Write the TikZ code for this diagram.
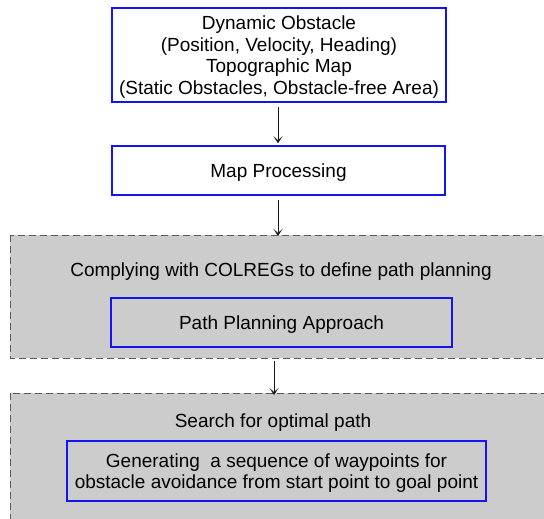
\documentclass[tikz,border=0pt]{standalone}
\usepackage{fontspec}
\setmainfont{Liberation Sans}
\usetikzlibrary{arrows.meta}
\definecolor{boxblue}{RGB}{20,20,240}
\definecolor{panelgrey}{RGB}{204,204,204}
\definecolor{dashgrey}{RGB}{90,90,90}
\newcommand{\drop}[1]{\raisebox{-2.5pt}[\height][\depth]{\begin{tabular}{@{}c@{}}#1\end{tabular}}}
\tikzset{
  bluebox/.style={draw=boxblue, line width=1.6pt, fill=white, inner sep=0pt, font=\fontsize{19}{21.5}\selectfont},
  innerbox/.style={bluebox, fill=panelgrey},
  panel/.style={draw=dashgrey, fill=panelgrey, dash pattern=on 7pt off 4pt, line width=0.8pt},
  plain/.style={font=\fontsize{19}{21.5}\selectfont, inner sep=0pt},
  flow/.style={-{Stealth[length=7pt,width=9pt,inset=4pt]}, line width=1pt, draw=black!90}
}
\begin{document}
\begin{tikzpicture}[x=1pt,y=-1pt]
\useasboundingbox (0,0) rectangle (544,519);
\begin{scope}
\clip (0,0) rectangle (544,519);
\draw[panel] (10,235) rectangle (560,358);
\draw[panel] (10,393) rectangle (560,530);
\end{scope}
\node[bluebox, minimum width=334pt, minimum height=94pt] (input) at (279,55)
  {\drop{Dynamic Obstacle\\(Position, Velocity, Heading)\\Topographic Map\\(Static Obstacles, Obstacle-free Area)}};
\node[bluebox, minimum width=333pt, minimum height=49pt] (map) at (278.5,170.5) {\drop{Map Processing}};
\node[plain] (colregs) at (281,272) {Complying with COLREGs to define path planning};
\node[innerbox, minimum width=341pt, minimum height=49pt] (ppa) at (281.5,322.5) {\drop{Path Planning Approach}};
\node[plain] (search) at (273,423) {Search for optimal path};
\node[innerbox, minimum width=419pt, minimum height=60pt] (gen) at (276.5,471)
  {\drop{Generating\ \ a sequence of waypoints for\\obstacle avoidance from start point to goal point}};
\coordinate (p1top) at (278,236);
\coordinate (p1bot) at (274,361);
\coordinate (p2top) at (274,395);
\draw[flow] ([yshift=-4pt]input.south -| 278,0) -- ([yshift=2pt]map.north -| 278,0);
\draw[flow] ([yshift=-4pt]map.south -| 278,0) -- (p1top);
\draw[flow] (p1bot) -- (p2top);
\end{tikzpicture}
\end{document}
